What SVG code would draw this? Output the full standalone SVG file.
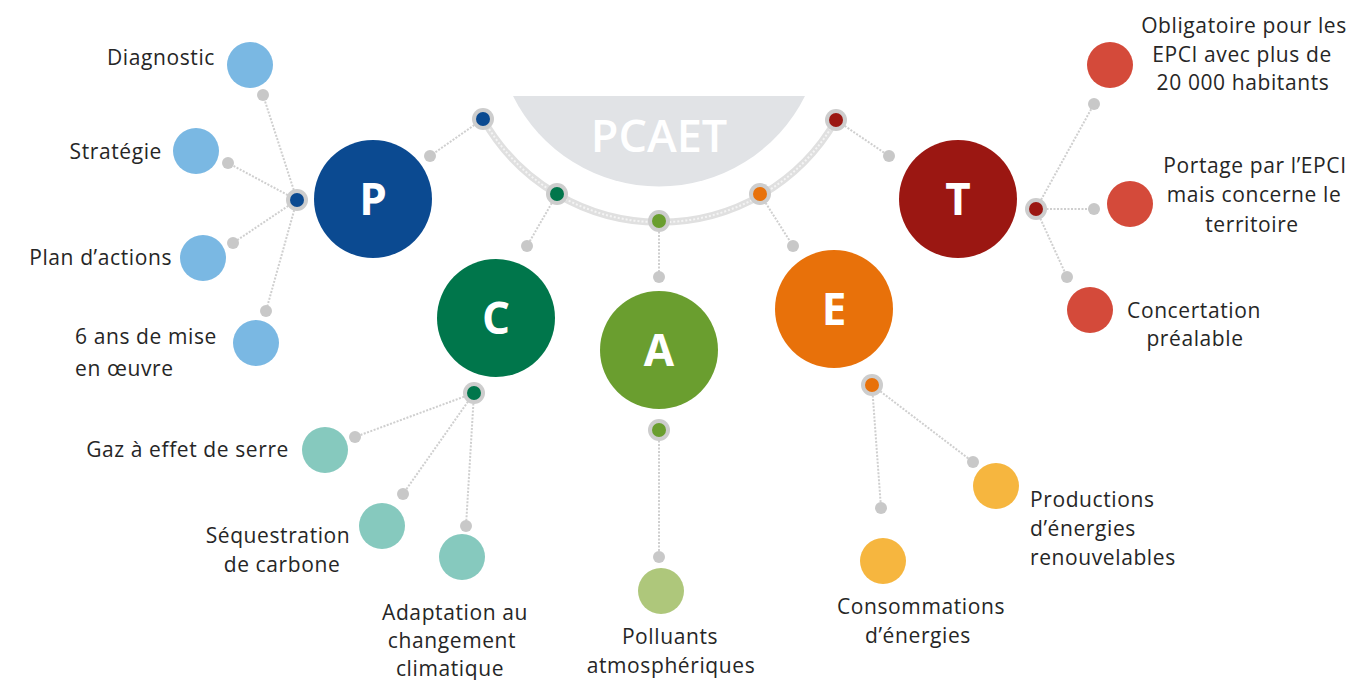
<svg xmlns="http://www.w3.org/2000/svg" width="1355" height="680" viewBox="0 0 1355 680">
<style>
.lbl{font-family:"Open Sans","Liberation Sans",sans-serif;font-size:21px;letter-spacing:0.6px;fill:#262626}
.big{font-family:"Open Sans","Liberation Sans",sans-serif;font-size:44px;font-weight:700;fill:#fff}
.con{stroke:#cfcfcf;stroke-width:2;stroke-dasharray:2 1.5;fill:none}
.gd{fill:#c8c8c8}
.ring{fill:#cdcdcd}
</style>
<rect width="1355" height="680" fill="#fff"/>
<g id="pcaet">
<path d="M513,96 A163,163 0 0 0 805,96 Z" fill="#e1e3e6"/>
<text x="659" y="152" text-anchor="middle" font-family="'Open Sans','Liberation Sans',sans-serif" font-size="45" font-weight="600" fill="#fff">PCAET</text>
</g>
<g id="connectors">
<path d="M483,119 A203,203 0 0 0 836,120" stroke="#e0e0e0" stroke-width="7" fill="none"/>
<path d="M483,119 A203,203 0 0 0 836,120" stroke="#f4f4f4" stroke-width="2" stroke-dasharray="2 2" fill="none"/>
<line class="con" x1="483" y1="119" x2="430" y2="156"/>
<line class="con" x1="557" y1="194" x2="527" y2="246"/>
<line class="con" x1="659" y1="221" x2="659" y2="277"/>
<line class="con" x1="760" y1="194" x2="793" y2="246"/>
<line class="con" x1="836" y1="120" x2="889" y2="156"/>
<line class="con" x1="297" y1="200" x2="263" y2="95"/>
<line class="con" x1="297" y1="200" x2="228" y2="163"/>
<line class="con" x1="297" y1="200" x2="233" y2="243"/>
<line class="con" x1="297" y1="200" x2="266" y2="311"/>
<line class="con" x1="474" y1="393" x2="355" y2="437"/>
<line class="con" x1="474" y1="393" x2="403" y2="494"/>
<line class="con" x1="474" y1="393" x2="466" y2="526"/>
<line class="con" x1="659" y1="430" x2="659" y2="557"/>
<line class="con" x1="872" y1="385" x2="881" y2="508"/>
<line class="con" x1="872" y1="385" x2="973" y2="462"/>
<line class="con" x1="1036" y1="209" x2="1094" y2="104"/>
<line class="con" x1="1036" y1="209" x2="1094" y2="209"/>
<line class="con" x1="1036" y1="209" x2="1067" y2="277"/>
<g class="gd">
<circle cx="430" cy="156" r="6"/><circle cx="527" cy="246" r="6"/><circle cx="659" cy="277" r="6"/><circle cx="793" cy="246" r="6"/><circle cx="889" cy="156" r="6"/>
<circle cx="263" cy="95" r="6"/><circle cx="228" cy="163" r="6"/><circle cx="233" cy="243" r="6"/><circle cx="266" cy="311" r="6"/>
<circle cx="355" cy="437" r="6"/><circle cx="403" cy="494" r="6"/><circle cx="466" cy="526" r="6"/>
<circle cx="659" cy="557" r="6"/>
<circle cx="881" cy="508" r="6"/><circle cx="973" cy="462" r="6"/>
<circle cx="1094" cy="104" r="6"/><circle cx="1094" cy="209" r="6"/><circle cx="1067" cy="277" r="6"/>
</g>
</g>
<g id="hub-P-top"><circle class="ring" cx="483" cy="119" r="11"/><circle cx="483" cy="119" r="7" fill="#0b4a91"/></g>
<g id="hub-C-top"><circle class="ring" cx="557" cy="194" r="11"/><circle cx="557" cy="194" r="7" fill="#00764b"/></g>
<g id="hub-A-top"><circle class="ring" cx="659" cy="221" r="11"/><circle cx="659" cy="221" r="7" fill="#6a9e2f"/></g>
<g id="hub-E-top"><circle class="ring" cx="760" cy="194" r="11"/><circle cx="760" cy="194" r="7" fill="#e8710a"/></g>
<g id="hub-T-top"><circle class="ring" cx="836" cy="120" r="11"/><circle cx="836" cy="120" r="7" fill="#9b1712"/></g>
<g id="node-P"><circle cx="373" cy="199" r="59" fill="#0b4a91"/><text class="big" x="373" y="215" text-anchor="middle">P</text></g>
<g id="node-C"><circle cx="496" cy="318" r="59" fill="#00764b"/><text class="big" x="496" y="334" text-anchor="middle">C</text></g>
<g id="node-A"><circle cx="659" cy="350" r="59" fill="#6a9e2f"/><text class="big" x="659" y="366" text-anchor="middle">A</text></g>
<g id="node-E"><circle cx="834" cy="309" r="59" fill="#e8710a"/><text class="big" x="834" y="325" text-anchor="middle">E</text></g>
<g id="node-T"><circle cx="958" cy="199" r="59" fill="#9b1712"/><text class="big" x="958" y="215" text-anchor="middle">T</text></g>
<g id="hub-P"><circle class="ring" cx="297" cy="200" r="11"/><circle cx="297" cy="200" r="7" fill="#0b4a91"/></g>
<g id="hub-C"><circle class="ring" cx="474" cy="393" r="11"/><circle cx="474" cy="393" r="7" fill="#00764b"/></g>
<g id="hub-A"><circle class="ring" cx="659" cy="430" r="11"/><circle cx="659" cy="430" r="7" fill="#6a9e2f"/></g>
<g id="hub-E"><circle class="ring" cx="872" cy="385" r="11"/><circle cx="872" cy="385" r="7" fill="#e8710a"/></g>
<g id="hub-T"><circle class="ring" cx="1036" cy="209" r="11"/><circle cx="1036" cy="209" r="7" fill="#9b1712"/></g>
<g id="diagnostic"><circle cx="250" cy="65" r="23" fill="#7ab8e3"/><text class="lbl" x="215" y="65" text-anchor="end">Diagnostic</text></g>
<g id="strategie"><circle cx="196" cy="151" r="23" fill="#7ab8e3"/><text class="lbl" x="162" y="159" text-anchor="end">Stratégie</text></g>
<g id="plan"><circle cx="203" cy="258" r="23" fill="#7ab8e3"/><text class="lbl" x="172" y="265" text-anchor="end">Plan d’actions</text></g>
<g id="six-ans"><circle cx="256" cy="343" r="23" fill="#7ab8e3"/><text class="lbl" x="75" y="344">6 ans de mise</text><text class="lbl" x="75" y="376">en œuvre</text></g>
<g id="gaz"><circle cx="325" cy="450" r="23" fill="#86c9be"/><text class="lbl" x="289" y="457" text-anchor="end">Gaz à effet de serre</text></g>
<g id="sequestration"><circle cx="382" cy="526" r="23" fill="#86c9be"/><text class="lbl" x="278" y="543" text-anchor="middle">Séquestration</text><text class="lbl" x="282" y="572" text-anchor="middle">de carbone</text></g>
<g id="adaptation"><circle cx="462" cy="557" r="23" fill="#86c9be"/><text class="lbl" x="455" y="620" text-anchor="middle">Adaptation au</text><text class="lbl" x="452" y="648" text-anchor="middle">changement</text><text class="lbl" x="450" y="676" text-anchor="middle">climatique</text></g>
<g id="polluants"><circle cx="661" cy="591" r="23" fill="#aec77b"/><text class="lbl" x="670" y="644" text-anchor="middle">Polluants</text><text class="lbl" x="671" y="673" text-anchor="middle">atmosphériques</text></g>
<g id="consommations"><circle cx="883" cy="561" r="23" fill="#f6b63f"/><text class="lbl" x="921" y="614" text-anchor="middle">Consommations</text><text class="lbl" x="918" y="643" text-anchor="middle">d’énergies</text></g>
<g id="productions"><circle cx="996" cy="486" r="23" fill="#f6b63f"/><text class="lbl" x="1030" y="507">Productions</text><text class="lbl" x="1030" y="536">d’énergies</text><text class="lbl" x="1030" y="565">renouvelables</text></g>
<g id="obligatoire"><circle cx="1110" cy="65" r="23" fill="#d44a3a"/><text class="lbl" x="1244" y="33" text-anchor="middle">Obligatoire pour les</text><text class="lbl" x="1242" y="62" text-anchor="middle">EPCI avec plus de</text><text class="lbl" x="1243" y="90" text-anchor="middle">20 000 habitants</text></g>
<g id="portage"><circle cx="1130" cy="204" r="23" fill="#d44a3a"/><text class="lbl" x="1255" y="173" text-anchor="middle">Portage par l’EPCI</text><text class="lbl" x="1254" y="202" text-anchor="middle">mais concerne le</text><text class="lbl" x="1252" y="232" text-anchor="middle">territoire</text></g>
<g id="concertation"><circle cx="1090" cy="310" r="23" fill="#d44a3a"/><text class="lbl" x="1194" y="318" text-anchor="middle">Concertation</text><text class="lbl" x="1195" y="346" text-anchor="middle">préalable</text></g>
</svg>
